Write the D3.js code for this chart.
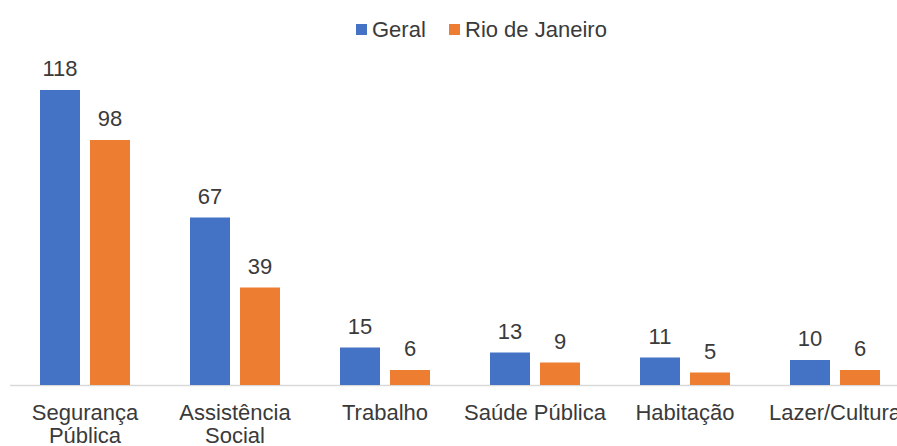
<!DOCTYPE html>
<html>
<head>
<meta charset="utf-8">
<script src="https://cdn.jsdelivr.net/npm/d3@7"></script>
<style>
  body { margin: 0; background: #fff; }
  text { font-family: "Liberation Sans", Arial, sans-serif; fill: #3a3a3a; }
</style>
</head>
<body>
<div id="chart"></div>
<script>
const categories = [["Segurança", "Pública"], ["Assistência", "Social"], ["Trabalho"], ["Saúde Pública"], ["Habitação"], ["Lazer/Cultura"]];
const seriesNames = ["Geral", "Rio de Janeiro"];
const geral = [118, 67, 15, 13, 11, 10];
const rio = [98, 39, 6, 9, 5, 6];

const svg = { width: 897, height: 446, baseline: 385, top: 35 };
const colors = ["#4472C4", "#ED7D31"];

const data = categories.map((c, i) => ({ key: c.join(" "), label: c, values: [geral[i], rio[i]] }));

const xScale = d3.scaleBand()
    .domain(data.map(d => d.key))
    .range([10, 910])
    .paddingInner(0)
    .paddingOuter(0);

const inner = d3.scaleBand()
    .domain(seriesNames)
    .range([30, 120])
    .paddingInner(0.2);

const yScale = d3.scaleLinear()
    .domain([0, 140])
    .range([svg.baseline, svg.top]);

const chart = d3.select("#chart")
    .append("svg")
    .attr("width", svg.width)
    .attr("height", svg.height);

// baseline
chart.append("line")
    .attr("x1", 10).attr("x2", svg.width)
    .attr("y1", svg.baseline + 0.5).attr("y2", svg.baseline + 0.5)
    .attr("stroke", "#d9d9d9")
    .attr("stroke-width", 1.5);

const groups = chart.append("g")
    .selectAll("g.group")
    .data(data)
    .join("g")
    .attr("class", "group")
    .attr("transform", d => `translate(${xScale(d.key)},0)`);

groups.selectAll("rect")
    .data(d => d.values.map((v, i) => ({ name: seriesNames[i], v, i })))
    .join("rect")
    .attr("x", d => inner(d.name))
    .attr("width", inner.bandwidth())
    .attr("y", d => yScale(d.v))
    .attr("height", d => yScale(0) - yScale(d.v))
    .attr("fill", d => colors[d.i]);

groups.selectAll("text.val")
    .data(d => d.values.map((v, i) => ({ name: seriesNames[i], v })))
    .join("text")
    .attr("class", "val")
    .attr("x", d => inner(d.name) + inner.bandwidth() / 2)
    .attr("y", d => yScale(d.v) - 14)
    .attr("text-anchor", "middle")
    .attr("font-size", 22)
    .text(d => d.v);

// category labels
groups.append("text")
    .attr("class", "cat")
    .attr("text-anchor", "middle")
    .attr("font-size", 22)
    .selectAll("tspan")
    .data(d => d.label)
    .join("tspan")
    .attr("x", xScale.bandwidth() / 2)
    .attr("y", (d, i) => 420 + i * 23)
    .text(d => d);

// legend
const legend = chart.append("g").attr("class", "legend");
const legendX = [356, 449];
seriesNames.forEach((name, i) => {
    legend.append("rect")
        .attr("x", legendX[i]).attr("y", 24)
        .attr("width", 11).attr("height", 11)
        .attr("fill", colors[i]);
    legend.append("text")
        .attr("x", legendX[i] + 16).attr("y", 37)
        .attr("font-size", 22)
        .text(name);
});
</script>
</body>
</html>
